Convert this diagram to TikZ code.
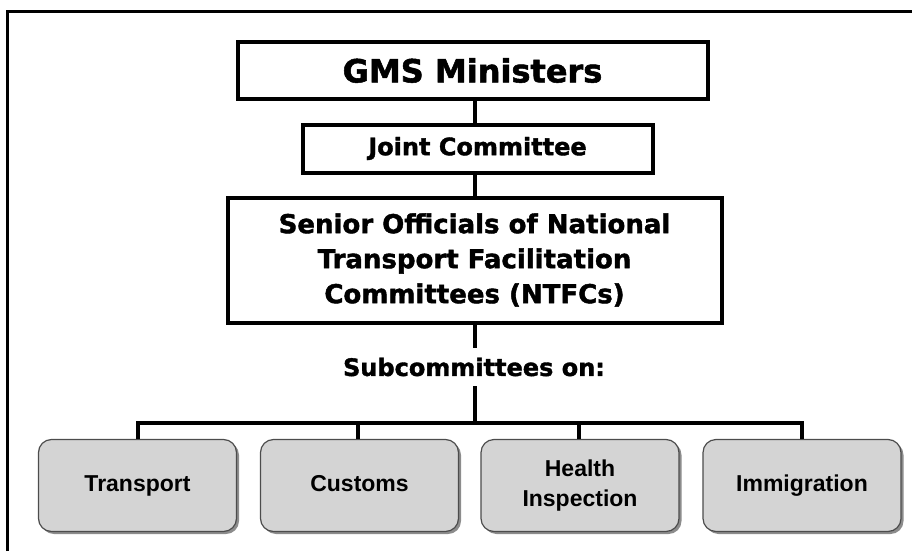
\documentclass[tikz,border=0pt]{standalone}
\usepackage{fontspec}
\usetikzlibrary{shadows}
\setmainfont{DejaVu Sans}
\newfontfamily\heavyfont{DejaVu Sans Bold}[FakeBold=1.6]
\newfontfamily\subfont{Liberation Sans Bold}
\begin{document}
\begin{tikzpicture}[x=1pt,y=-1pt,
  topbox/.style={draw=black, line width=4pt, fill=white, inner sep=0pt, align=center, font=\heavyfont},
  subbox/.style={draw=black!70, line width=1.2pt, fill=black!17, rounded corners=13pt,
     minimum width=198pt, minimum height=92pt, inner sep=0pt, align=center,
     drop shadow={shadow xshift=2.5pt, shadow yshift=-2.5pt, fill=black!45, opacity=1},
     font=\subfont\fontsize{23}{30}\selectfont},
  link/.style={line width=4pt, black},
  frame/.style={line width=3pt, black}]
\useasboundingbox (0,0) rectangle (912,551);
% outer frame
\coordinate (fl) at (7,551);
\coordinate (fc) at (7,12);
\coordinate (fr) at (912,12);
\draw[frame] (fl) -- (fc) -- (fr);
% top boxes
\node[topbox, minimum width=470pt, minimum height=57pt, font=\heavyfont\fontsize{32}{32}\selectfont] (gms) at (472.5,70.5) {GMS Ministers};
\node[topbox, minimum width=350pt, minimum height=48pt, font=\heavyfont\fontsize{24}{24}\selectfont] (jc) at (477.5,148.5) {Joint Committee};
\node[topbox, minimum width=494pt, minimum height=125pt, font=\heavyfont\fontsize{26}{35}\selectfont] (so) at (474.5,260) {Senior Officials of National\\Transport Facilitation\\Committees (NTFCs)};
\node[font=\heavyfont\fontsize{24}{24}\selectfont, inner sep=0pt, minimum height=38pt] (subc) at (474,367) {Subcommittees on:};
% bottom boxes
\node[subbox] (tr) at (137.5,485.5) {Transport};
\node[subbox] (cu) at (359.5,485.5) {Customs\vphantom{p}};
\node[subbox] (he) at (580,485.5) {Health\\Inspection};
\node[subbox] (im) at (802,485.5) {Immigration};
% connectors
\coordinate (bar) at (475,422.5);
\draw[link] (gms.south -| 475,0) -- (jc.north -| 475,0);
\draw[link] (jc.south -| 475,0) -- (so.north -| 475,0);
\draw[link] (so.south -| 475,0) -- (subc.north -| 475,0);
\draw[link] (subc.south -| 475,0) -- (bar);
\draw[link] (tr.north -| 138,0) |- (bar) -| (im.north -| 802,0);
\draw[link] (cu.north -| 358,0) -- (358,422.5);
\draw[link] (he.north -| 579,0) -- (579,422.5);
\end{tikzpicture}
\end{document}
